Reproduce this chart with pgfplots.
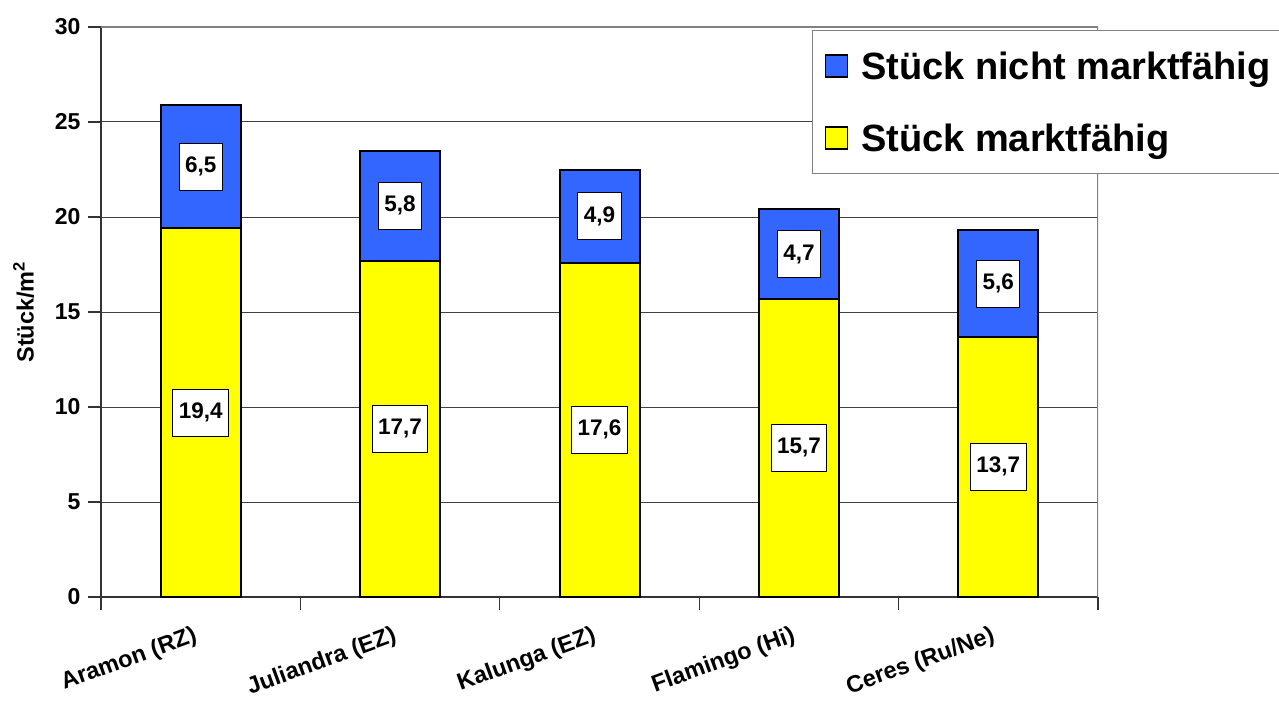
\documentclass[border=0pt]{standalone}
\usepackage{fontspec}
\setmainfont{Liberation Sans}
\usepackage{pgfplots}
\pgfplotsset{compat=1.18}

\definecolor{barblue}{HTML}{3366FF}
\definecolor{baryellow}{HTML}{FFFF00}
\definecolor{framegray}{HTML}{808080}

\newcommand\tickfont{\fontsize{23}{27}\selectfont\bfseries}
\newcommand\catfont{\fontsize{23.5}{27}\selectfont\bfseries}
\newcommand\ylabfont{\fontsize{23.5}{27}\selectfont\bfseries}
\newcommand\valfont{\fontsize{22.5}{26}\selectfont\bfseries}
\newcommand\legfont{\fontsize{38}{44}\selectfont\bfseries}

\begin{document}
\begin{tikzpicture}
\begin{axis}[
  scale only axis,
  width=997pt, height=570pt,
  ybar stacked, bar width=80pt,
  xmin=-0.5, xmax=4.5, ymin=0, ymax=30,
  axis x line*=bottom, axis y line*=left,
  axis line style={draw=black!80, line width=1.5pt},
  tick align=outside,
  major tick length=13pt,
  tick style={black!80, line width=1.2pt},
  xtick={-0.5,0.5,1.5,2.5,3.5,4.5},
  xticklabel=\empty,
  extra x ticks={0,1,2,3,4},
  extra x tick labels={Aramon (RZ),Juliandra (EZ),Kalunga (EZ),Flamingo (Hi),Ceres (Ru/Ne)},
  extra x tick style={major tick length=0pt, tick style={draw=none},
    tick label style={rotate=20, anchor=north east, font=\catfont, xshift=-14pt, yshift=-20pt}},
  ytick={0,5,...,30},
  yticklabel style={font=\tickfont, xshift=-4pt},
  ymajorgrids,
  grid style={black!75, line width=1pt},
  /pgf/number format/assume math mode=true,
  ylabel={Stück/m\textsuperscript{2}},
  ylabel style={font=\ylabfont},
  ylabel shift=14pt,
  visualization depends on={rawy \as \rawy},
  nodes near coords={\pgfmathprintnumber[fixed, fixed zerofill, precision=1, use comma]{\rawy}},
  every node near coord/.append style={anchor=center,
    fill=white, draw=black, line width=1pt, font=\valfont,
    minimum height=47pt, inner xsep=6pt},
  reverse legend,
  legend style={at={(0.713,0.995)}, anchor=north west,
    draw=framegray, line width=1.5pt, font=\legfont,
    inner xsep=12pt, inner ysep=19pt, row sep=39pt,
    nodes={inner ysep=2pt, inner xsep=6pt},
    /tikz/every odd column/.append style={column sep=7pt}},
  legend cell align=left,
  legend image code/.code={\draw[#1, line width=1.5pt] (2pt,-11pt) rectangle (24pt,11pt);},
]
\addplot[fill=baryellow, draw=black, line width=2pt] coordinates {
  (0,19.4) (1,17.7) (2,17.6) (3,15.7) (4,13.7)};
\addlegendentry{Stück marktfähig}
\addplot[fill=barblue, draw=black, line width=2pt] coordinates {
  (0,6.5) (1,5.8) (2,4.9) (3,4.7) (4,5.6)};
\addlegendentry{Stück nicht marktfähig}
\draw[framegray, line width=1.5pt] (rel axis cs:0,1) -- (rel axis cs:1,1) -- (rel axis cs:1,0);
\end{axis}
\pgfresetboundingbox
\path (current axis.south west) ++(-101pt,-105pt) rectangle ++(1279pt,702pt);
\end{tikzpicture}
\end{document}
